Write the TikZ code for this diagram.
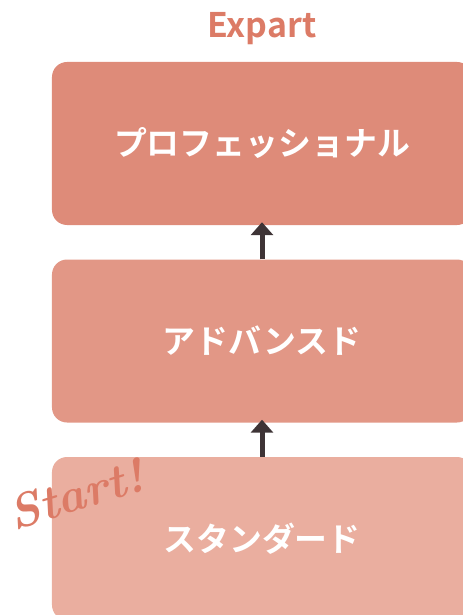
\documentclass[tikz,border=0pt]{standalone}
\usepackage{fontspec}
\newfontfamily\jpfont{Noto Sans CJK JP}[BoldFont={Noto Sans CJK JP Bold}]
\usetikzlibrary{arrows.meta}
\definecolor{boxtop}{HTML}{DE8B79}
\definecolor{boxmid}{HTML}{E29786}
\definecolor{boxlow}{HTML}{EAAE9F}
\definecolor{headred}{HTML}{DC7B66}
\definecolor{arrowdark}{HTML}{3E3436}
\tikzset{
  level/.style={rounded corners=15bp, minimum width=420bp, minimum height=163bp,
    text=white, font=\jpfont\bfseries\fontsize{33}{33}\selectfont},
  upstep/.style={-{Triangle[length=13bp,width=22bp]}, line width=5bp, arrowdark}
}
\begin{document}
\begin{tikzpicture}[x=1bp,y=-1bp]
\useasboundingbox (0,0) rectangle (463,615);
\node[font=\jpfont\bfseries\fontsize{34}{34}\selectfont, text=headred] (head) at (262,29) {Expart};
\node[level, fill=boxtop] (pro) at (262,143.5) {プロフェッショナル};
\node[level, fill=boxmid] (adv) at (262,341) {アドバンスド};
\node[level, fill=boxlow] (std) at (262,538.5) {スタンダード};
\draw[upstep] (adv.north) -- ([yshift=3bp]pro.south);
\draw[upstep] (std.north) -- ([yshift=3bp]adv.south);
\node[rotate=17, text=headred, font=\bfseries\itshape\fontsize{48}{48}\selectfont] (start) at (76,494) {Start!};
\end{tikzpicture}
\end{document}
